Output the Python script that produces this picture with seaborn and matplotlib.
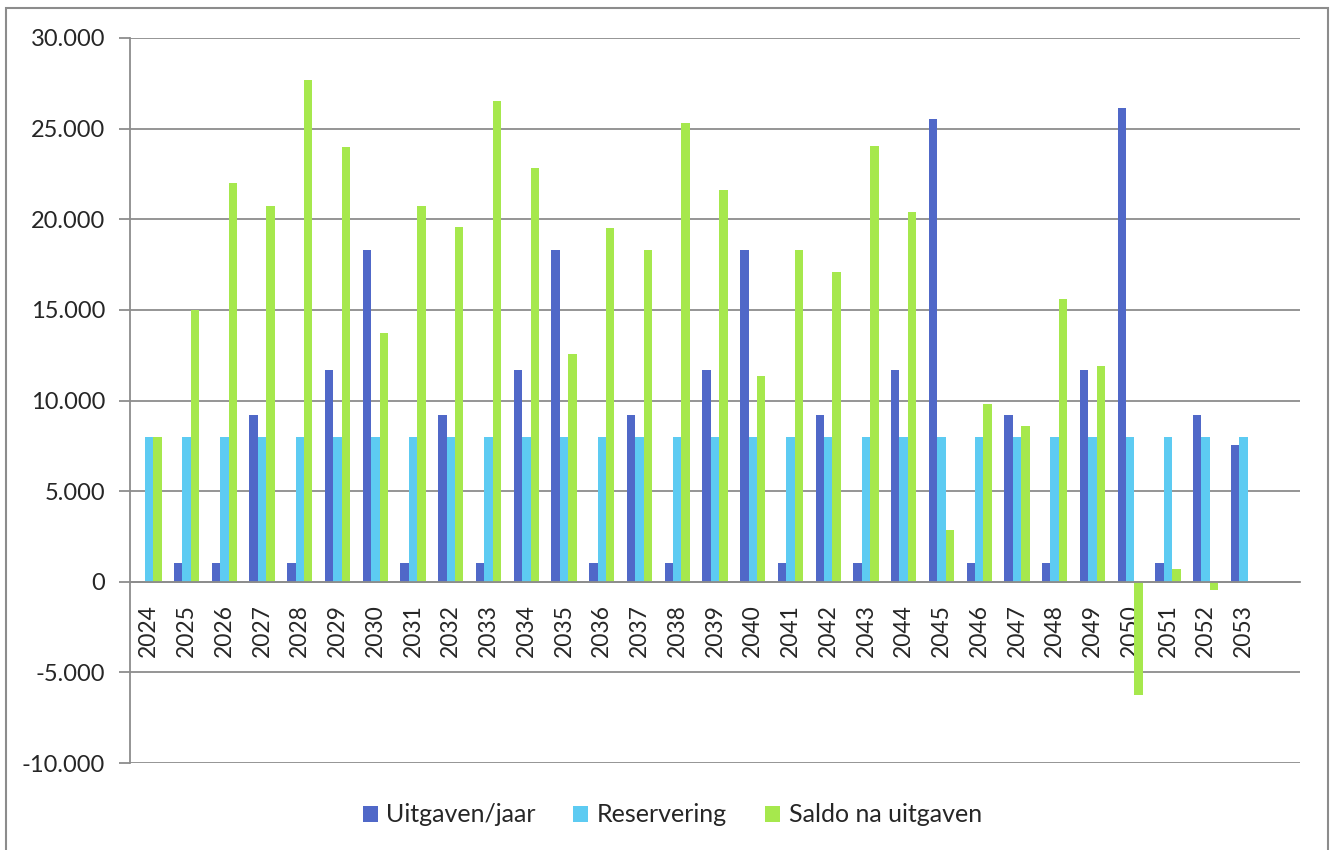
import numpy as np
import pandas as pd
import seaborn as sns
import matplotlib.pyplot as plt
from matplotlib.patches import Rectangle
from matplotlib.ticker import FuncFormatter

# -----------------------------
# Data
# -----------------------------
years = [str(y) for y in range(2024, 2054)] + [""]
uitgaven = [0, 1050, 1050, 9200, 1050, 11700, 18300, 1050, 9200, 1050,
            11700, 18300, 1050, 9200, 1050, 11700, 18300, 1050, 9200, 1050,
            11700, 25550, 1050, 9200, 1050, 11700, 26150, 1050, 9200, 7550, np.nan]
reservering = [8000] * 30 + [np.nan]
saldo = [8000, 15000, 22000, 20750, 27700, 24000, 13750, 20750, 19550, 26500,
         22850, 12550, 19500, 18300, 25300, 21600, 11350, 18300, 17100, 24050,
         20400, 2850, 9800, 8600, 15600, 11900, -6250, 700, -450, np.nan, np.nan]

series = ["Uitgaven/jaar", "Reservering", "Saldo na uitgaven"]
colors = ["#5068C8", "#5DCBF2", "#A6E84D"]

df = pd.DataFrame({"jaar": years, series[0]: uitgaven,
                   series[1]: reservering, series[2]: saldo})
long = df.melt(id_vars="jaar", var_name="reeks", value_name="bedrag")

# -----------------------------
# Plot
# -----------------------------
sns.set_style("white")
plt.rcParams["font.family"] = ["Lato", "DejaVu Sans"]

fig = plt.figure(figsize=(13.31, 8.5), dpi=100)
ax = fig.add_axes([130 / 1331, 1 - 763 / 850, 1170 / 1331, 725 / 850])

sns.barplot(data=long, x="jaar", y="bedrag", hue="reeks", order=years,
            hue_order=series, palette=colors, width=0.67, gap=0,
            saturation=1, errorbar=None, linewidth=0, ax=ax, zorder=3)

ax.set_ylim(-10000, 30000)
ax.set_xlim(-0.5, len(years) - 0.5)
ax.set_yticks(range(-10000, 30001, 5000))
ax.yaxis.set_major_formatter(FuncFormatter(lambda v, p: f"{int(v):,}".replace(",", ".")))
ax.grid(axis="y", color="#8c8c8c", linewidth=1.3, zorder=0)
ax.set_axisbelow(True)

grey = "#8c8c8c"
for s in ["top", "right"]:
    ax.spines[s].set_visible(False)
ax.spines["left"].set_color(grey)
ax.spines["left"].set_linewidth(1.3)
ax.spines["bottom"].set_position(("data", 0))
ax.spines["bottom"].set_color(grey)
ax.spines["bottom"].set_linewidth(1.3)
ax.spines["bottom"].set_zorder(4)

ax.set_xticks(range(len(years)))
ax.set_xticklabels(years, rotation=90, fontsize=16.5)
ax.set_xticks(np.arange(-0.5, len(years), 1), minor=True)
ax.tick_params(axis="x", which="major", length=0, pad=16)
ax.tick_params(axis="x", which="minor", length=8, color=grey, width=1.3, direction="out")
ax.tick_params(axis="y", length=8, color=grey, width=1.3, labelsize=17, pad=10, left=True)
ax.set_xlabel("")
ax.set_ylabel("")

handles, labels = ax.get_legend_handles_labels()
ax.get_legend().remove()
fig.legend(handles, labels, loc="center", bbox_to_anchor=(0.505, 1 - 815 / 850), ncol=3,
           frameon=False, fontsize=18, handlelength=0.6, handleheight=0.6,
           columnspacing=1.5, handletextpad=0.35)

fig.patches.append(Rectangle((6 / 1331, -0.05), 1322 / 1331, 1.05 - 8 / 850,
                             transform=fig.transFigure, fill=False,
                             edgecolor=grey, linewidth=1.5))

fig.savefig("out.png", dpi=100)
plt.close()
